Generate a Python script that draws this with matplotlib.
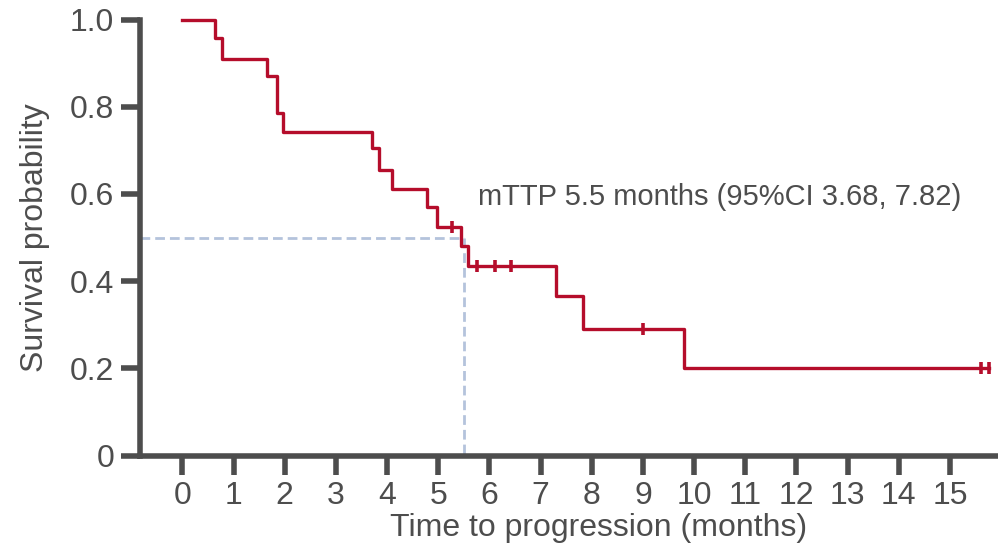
import matplotlib
matplotlib.use("Agg")
import matplotlib.pyplot as plt
import numpy as np

# Data
times = [0, 0.63, 0.78, 1.66, 1.85, 1.96, 3.70, 3.84, 4.09, 4.78, 4.98, 5.45, 5.58, 7.31, 7.83, 9.80]
surv = [1.0, 0.958, 0.909, 0.871, 0.785, 0.742, 0.706, 0.655, 0.612, 0.569, 0.524, 0.480, 0.434, 0.366, 0.291, 0.200]
end_time = 15.77
censor_times = [5.27, 5.76, 6.10, 6.43, 9.01, 15.61, 15.77]
median_time = 5.5
xticks = list(range(0, 16))
yticks = [0, 0.2, 0.4, 0.6, 0.8, 1.0]
ytick_labels = ["0", "0.2", "0.4", "0.6", "0.8", "1.0"]
annotation = "mTTP 5.5 months (95%CI 3.68, 7.82)"

plt.rcParams['font.family'] = ['Liberation Sans', 'DejaVu Sans']

RED = '#b50d2b'
GRAY = '#4d4d4d'
DASH = '#b4c3dc'

fig = plt.figure(figsize=(9.98, 5.47), dpi=100)
ax = fig.add_axes([140 / 998, (547 - 455.5) / 547, 858 / 998, (455.5 - 19.5) / 547])

ax.set_xlim(-0.83, 15.94)
ax.set_ylim(0, 1.0)

# median dashed lines
ax.plot([-0.83, median_time], [0.5, 0.5], color=DASH, lw=2, dashes=(3.5, 1.8), zorder=1, clip_on=False)
ax.plot([median_time, median_time], [0.5, 0], color=DASH, lw=2, dashes=(3.5, 1.8), zorder=1, clip_on=False)

# KM step curve
t_arr = list(times) + [end_time]
s_arr = list(surv) + [surv[-1]]
ax.step(t_arr, s_arr, where='post', color=RED, lw=2.4, zorder=3, clip_on=False)

# censor marks
t_np = np.array(times)
s_np = np.array(surv)
c_y = [s_np[np.searchsorted(t_np, c, side='right') - 1] for c in censor_times]
ax.plot(censor_times, c_y, ls='none', marker='|', markersize=9, mew=2.6, color=RED, zorder=4, clip_on=False)

ax.text(5.78, 0.593, annotation, ha='left', va='center', fontsize=21, color=GRAY)

for s in ['top', 'right']:
    ax.spines[s].set_visible(False)
for s in ['left', 'bottom']:
    ax.spines[s].set_color(GRAY)
    ax.spines[s].set_linewidth(4)
ax.spines['left'].set_bounds(0, 1)

ax.set_xticks(xticks)
ax.set_xticklabels([str(x) for x in xticks])
ax.set_yticks(yticks)
ax.set_yticklabels(ytick_labels)
ax.tick_params(axis='both', length=13.5, width=4, color=GRAY, labelcolor=GRAY, labelsize=23, pad=5)

ax.set_xlabel("Time to progression (months)", fontsize=23, color=GRAY)
ax.xaxis.set_label_coords(0.535, -0.132)
ax.set_ylabel("Survival probability", fontsize=23, color=GRAY)
ax.yaxis.set_label_coords(-0.105, 0.5)

fig.savefig("out.png", dpi=100)
